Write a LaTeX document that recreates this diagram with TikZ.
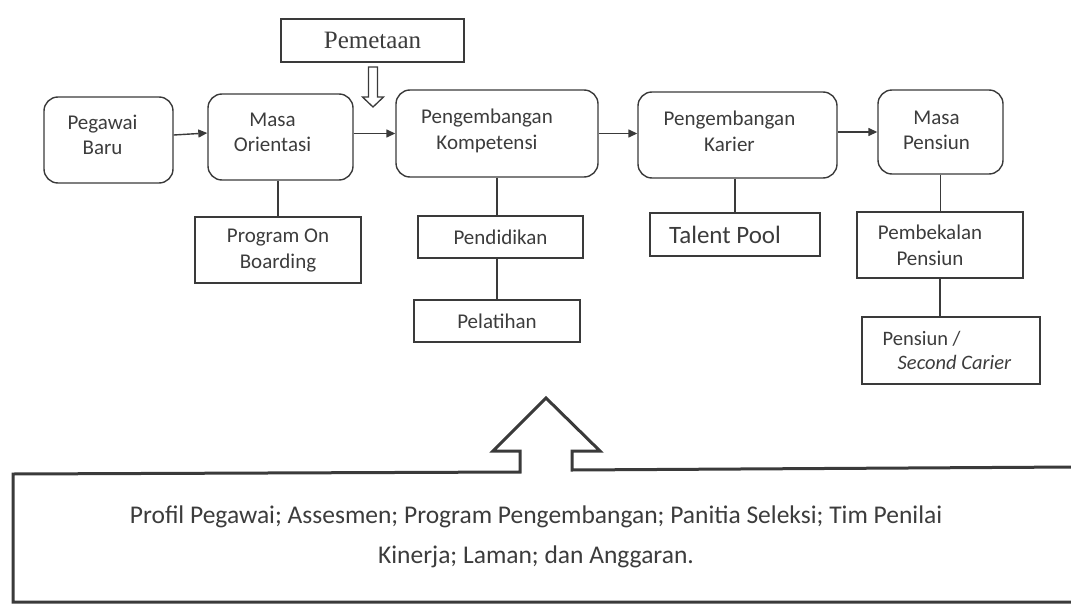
\documentclass[tikz,border=0pt]{standalone}
\usepackage{fontspec}
\setmainfont{Carlito}
\newfontfamily\pmserif{Liberation Serif}
\usetikzlibrary{arrows.meta,calc}
\definecolor{ink}{HTML}{3A3A3A}
\definecolor{txt}{HTML}{3C3C3C}
\newcommand\lft[1]{\kern#1}
\newcommand\dep[1]{\rule[-#1]{0pt}{#1}}
\tikzset{
  rbox/.style={draw=ink, line width=1.4pt, rounded corners=14pt, inner sep=0pt,
    align=center, text=txt, font=\fontsize{21}{25.5}\selectfont},
  sbox/.style={draw=ink, line width=1.4pt, inner sep=0pt,
    align=center, text=txt, font=\fontsize{21}{26}\selectfont},
  conn/.style={draw=ink, line width=1.4pt},
  arr/.style={draw=ink, line width=1.4pt, -{Triangle[length=9pt,width=8pt]}},
  hollow/.style={draw=ink, line width=1.3pt, line join=miter, fill=white},
  bigframe/.style={draw=ink, line width=3pt, line join=miter},
}
\begin{document}
\begin{tikzpicture}[x=1pt,y=-1pt]
\useasboundingbox (0,0) rectangle (1071,605);

% main row
\node[rbox, minimum width=129pt, minimum height=86pt] (pb) at (108.5,140) {Pegawai\lft{12pt}\\Baru\lft{12pt}\dep{10pt}};
\node[rbox, minimum width=145pt, minimum height=86pt] (mo) at (280.5,137) {Masa\lft{16pt}\\Orientasi\lft{16pt}\dep{9pt}};
\node[rbox, minimum width=202pt, minimum height=87pt] (pk) at (497,133.5) {Pengembangan\lft{20pt}\\Kompetensi\lft{20pt}\dep{9pt}};
\node[rbox, minimum width=199pt, minimum height=86pt] (kr) at (737.5,135) {Pengembangan\lft{16pt}\\Karier\lft{16pt}\dep{8pt}};
\node[rbox, minimum width=125pt, minimum height=84pt] (mp) at (940.5,132) {Masa\lft{8pt}\\Pensiun\lft{8pt}\dep{3pt}};

% Pemetaan
\node[sbox, minimum width=183pt, minimum height=43pt, font=\pmserif\fontsize{25}{28}\selectfont] (pm) at (372.5,40.5) {Pemetaan};
\coordinate (pmtop) at (373,67);
\draw[hollow] ($(pmtop)+(-4.5,0)$) -- ++(0,30) -- ++(-6,0) -- ($(pmtop)+(0,40)$)
  -- ($(pmtop)+(10.5,30)$) -- ++(-6,0) -- ($(pmtop)+(4.5,0)$) -- cycle;

% sub boxes
\node[sbox, minimum width=166pt, minimum height=66pt] (pob) at (278,250) {Program On\\Boarding};
\node[sbox, minimum width=165pt, minimum height=42pt] (pend) at (500.5,237) {Pendidikan};
\node[sbox, minimum width=166pt, minimum height=42pt] (pel) at (497,321) {Pelatihan};
\node[sbox, minimum width=170pt, minimum height=43pt, font=\fontsize{25}{28}\selectfont] (tp) at (735,234.5) {Talent Pool\lft{20pt}};
\node[sbox, minimum width=166pt, minimum height=66pt] (pem) at (940,245) {Pembekalan\lft{20pt}\\Pensiun\lft{20pt}};
\node[sbox, minimum width=178pt, minimum height=67pt, align=left, font=\fontsize{20.5}{24}\selectfont] (pen) at (951,350.5) {Pensiun /\\\hspace*{15pt}\textit{Second Carier}\lft{8pt}};

% arrows
\draw[arr] ([yshift=5pt]pb.east) -- ([yshift=4pt]mo.west);
\draw[arr] (mo.east |- pk.west) -- (pk.west);
\draw[arr] (pk.east) -- (pk.east -| kr.west);
\draw[arr] (kr.east |- mp.west) -- (mp.west);

% connectors
\draw[conn] (pob.north |- mo.south) -- (pob.north);
\draw[conn] (pk.south) -- (pk.south |- pend.north);
\draw[conn] (pel.north |- pend.south) -- (pel.north);
\draw[conn] (tp.north |- kr.south) -- (tp.north);
\draw[conn] (mp.south) -- (mp.south |- pem.north);
\draw[conn] (pem.south) -- (pem.south |- pen.north);

% big arrow + bottom frame
\draw[bigframe] (1075,602) -- (13,602) -- (13,474) -- (520,472) -- (520,451) -- (493,451)
  -- (546,398) -- (600,451) -- (572,451) -- (572,470) -- (1075,467);
\node[align=center, text=txt, font=\fontsize{25.5}{40}\selectfont] (bt) at (536,537)
  {Profil Pegawai; Assesmen; Program Pengembangan; Panitia Seleksi; Tim Penilai\\Kinerja; Laman; dan Anggaran.};
\end{tikzpicture}
\end{document}
